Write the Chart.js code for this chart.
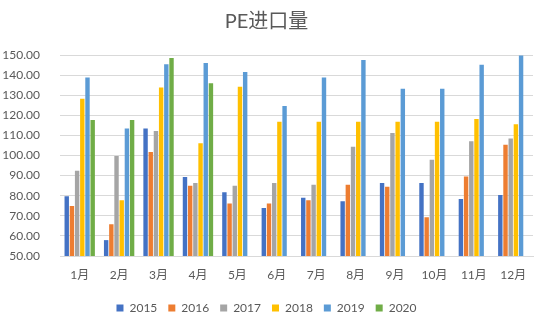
<!DOCTYPE html>
<html>
<head>
<meta charset="utf-8">
<script src="https://cdn.jsdelivr.net/npm/chart.js@4.4.0/dist/chart.umd.min.js"></script>
<style>
  html, body { margin: 0; padding: 0; background: #fff; }
  #wrap { width: 550px; height: 326px; }
</style>
</head>
<body>
<div id="wrap"><canvas id="mycanvas" width="550" height="326"></canvas></div>
<script>
var months = ['1月', '2月', '3月', '4月', '5月', '6月', '7月', '8月', '9月', '10月', '11月', '12月'];
var y2015 = [79.7, 57.9, 113.4, 89.3, 81.7, 73.9, 79.0, 77.2, 86.3, 86.3, 78.4, 80.4];
var y2016 = [74.9, 65.8, 101.7, 85.0, 76.1, 76.1, 77.7, 85.5, 84.5, 69.3, 89.6, 105.3];
var y2017 = [92.4, 99.7, 112.2, 86.3, 85.0, 86.3, 85.5, 104.3, 111.2, 97.9, 107.1, 108.4];
var y2018 = [128.2, 77.7, 133.8, 106.1, 134.2, 116.8, 116.8, 116.8, 116.8, 116.8, 118.2, 115.5];
var y2019 = [138.8, 113.4, 145.4, 146.0, 141.6, 124.6, 138.8, 147.5, 133.2, 133.2, 145.2, 149.7];
var y2020 = [117.7, 117.7, 148.5, 136.0, null, null, null, null, null, null, null, null];

var fontFam = "Lato, 'Noto Sans CJK SC', sans-serif";
var txt = '#595959';

function ds(label, color, values) {
  return {
    label: label,
    backgroundColor: color,
    borderWidth: 0,
    data: values,
    categoryPercentage: 0.79,
    barPercentage: 0.85
  };
}

var chartdata = {
  labels: months,
  datasets: [
    ds('2015', '#4472C4', y2015),
    ds('2016', '#ED7D31', y2016),
    ds('2017', '#A5A5A5', y2017),
    ds('2018', '#FFC000', y2018),
    ds('2019', '#5B9BD5', y2019),
    ds('2020', '#70AD47', y2020)
  ]
};

var ctx = document.getElementById('mycanvas');

var barGraph = new Chart(ctx, {
  type: 'bar',
  data: chartdata,
  options: {
    responsive: false,
    animation: false,
    layout: { padding: { left: 0, right: 17, top: 0, bottom: 2 } },
    plugins: {
      title: {
        display: true,
        text: 'PE进口量',
        color: txt,
        font: { family: fontFam, size: 20, weight: 'normal' },
        padding: { top: 10, bottom: 21 }
      },
      legend: {
        position: 'bottom',
        labels: {
          color: txt,
          font: { family: fontFam, size: 12 },
          boxWidth: 7,
          boxHeight: 7,
          padding: 11
        }
      },
      tooltip: { enabled: false }
    },
    scales: {
      x: {
        grid: { display: false, drawTicks: false },
        border: { color: '#D9D9D9' },
        ticks: { color: txt, font: { family: fontFam, size: 12 }, padding: 12, maxRotation: 0 },
        afterFit: function (s) { s.height = 35; }
      },
      y: {
        min: 50,
        max: 150,
        grid: { color: '#D9D9D9', drawTicks: false },
        border: { display: false },
        ticks: {
          stepSize: 10,
          color: txt,
          font: { family: fontFam, size: 12 },
          padding: 20,
          callback: function (v) { return v.toFixed(2); }
        },
        afterFit: function (s) { s.width = 60; }
      }
    }
  }
});
</script>
</body>
</html>
